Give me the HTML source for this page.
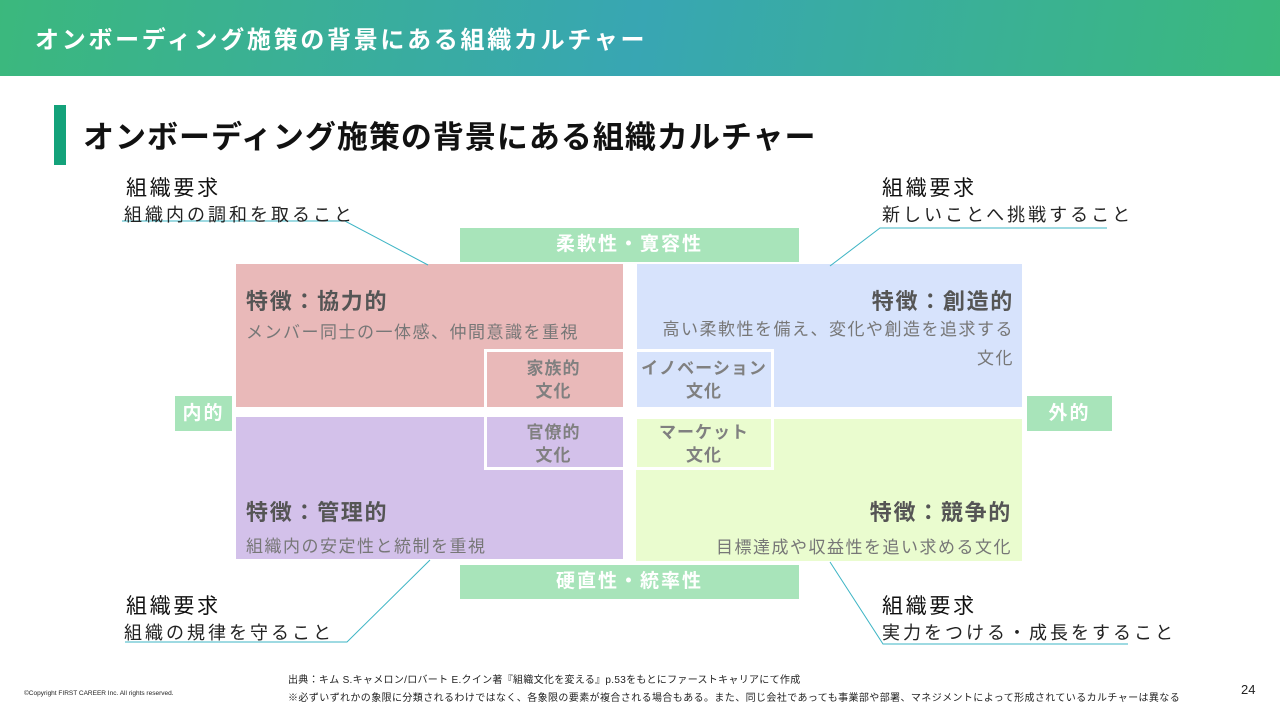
<!DOCTYPE html>
<html><head><meta charset="utf-8"><style>
body{margin:0;width:1280px;height:720px;position:relative;overflow:hidden;background:#fff;font-family:"Liberation Sans","Noto Sans CJK JP",sans-serif;}
.a{position:absolute;white-space:nowrap;}
.hdr{left:0;top:0;width:1280px;height:76px;background:linear-gradient(100deg,#3bb87d 0%,#38a6b3 50%,#3bb97c 100%);}
.q{position:absolute;}
.t{color:#555;font-weight:bold;font-size:22px;letter-spacing:1.7px;}
.s{color:#777;font-size:17px;letter-spacing:1.5px;}
.bar{position:absolute;background:#a8e4ba;color:#fff;font-weight:bold;font-size:19px;text-align:center;letter-spacing:2px;}
.c{position:absolute;color:#808080;font-weight:bold;font-size:17px;text-align:center;line-height:23px;letter-spacing:1px;}
.k{font-size:21px;color:#111;letter-spacing:2.7px;}
.r{font-size:18px;color:#222;letter-spacing:3px;}
</style></head><body>
<div class="a hdr"></div>
<div class="a" style="left:35px;top:20px;color:#fff;font-weight:bold;font-size:24px;letter-spacing:2.7px;">オンボーディング施策の背景にある組織カルチャー</div>
<div class="a" style="left:54px;top:105px;width:12px;height:60px;background:#14a27a"></div>
<div class="a" style="left:83px;top:112px;color:#111;font-weight:bold;font-size:31px;letter-spacing:1px;">オンボーディング施策の背景にある組織カルチャー</div>

<div class="q" style="left:236px;top:264px;width:387px;height:143px;background:#e9b9b9"></div>
<div class="q" style="left:637px;top:264px;width:385px;height:143px;background:#d7e3fc"></div>
<div class="q" style="left:236px;top:417px;width:387px;height:142px;background:#d3c1ea"></div>
<div class="q" style="left:636px;top:419px;width:386px;height:142px;background:#eafccf"></div>
<div class="q" style="left:484px;top:349px;width:284px;height:115px;border:3px solid #fff"></div>
<div class="q" style="left:623px;top:349px;width:14px;height:121px;background:#fff"></div>
<div class="q" style="left:484px;top:407px;width:290px;height:10px;background:#fff"></div>

<div class="a t" style="left:246px;top:284px">特徴：協力的</div>
<div class="a s" style="left:246px;top:318px">メンバー同士の一体感、仲間意識を重視</div>
<div class="a t" style="right:266px;top:284px">特徴：創造的</div>
<div class="a s" style="right:266px;top:315px;text-align:right;line-height:29px">高い柔軟性を備え、変化や創造を追求する<br>文化</div>
<div class="a t" style="left:246px;top:495px">特徴：管理的</div>
<div class="a s" style="left:246px;top:532px">組織内の安定性と統制を重視</div>
<div class="a t" style="right:268px;top:495px">特徴：競争的</div>
<div class="a s" style="right:268px;top:533px">目標達成や収益性を追い求める文化</div>

<div class="c" style="left:487px;top:357px;width:133px">家族的<br>文化</div>
<div class="c" style="left:637px;top:357px;width:134px">イノベーション<br>文化</div>
<div class="c" style="left:487px;top:421px;width:133px">官僚的<br>文化</div>
<div class="c" style="left:637px;top:421px;width:134px">マーケット<br>文化</div>

<div class="bar" style="left:460px;top:228px;width:339px;height:34px;line-height:34px">柔軟性・寛容性</div>
<div class="bar" style="left:460px;top:565px;width:339px;height:34px;line-height:34px">硬直性・統率性</div>
<div class="bar" style="left:175px;top:396px;width:57px;height:35px;line-height:35px">内的</div>
<div class="bar" style="left:1027px;top:396px;width:85px;height:35px;line-height:35px">外的</div>

<svg class="a" style="left:0;top:0" width="1280" height="720">
<g stroke="#3cb4c4" stroke-width="1" fill="none">
<polyline points="122,221 345,221 428,265"/>
<polyline points="1107,228 880,228 830,266"/>
<polyline points="125,642 347,642 430,560"/>
<polyline points="1128,644 883,644 830,562"/>
</g></svg>

<div class="a k" style="left:126px;top:172px">組織要求</div>
<div class="a r" style="left:124px;top:201px">組織内の調和を取ること</div>
<div class="a k" style="left:882px;top:172px">組織要求</div>
<div class="a r" style="left:882px;top:201px">新しいことへ挑戦すること</div>
<div class="a k" style="left:126px;top:590px">組織要求</div>
<div class="a r" style="left:124px;top:619px">組織の規律を守ること</div>
<div class="a k" style="left:882px;top:590px">組織要求</div>
<div class="a r" style="left:882px;top:619px">実力をつける・成長をすること</div>

<div class="a" style="left:288px;top:671px;font-size:10px;color:#222;letter-spacing:0.3px">出典：キム S.キャメロン/ロバート E.クイン著『組織文化を変える』p.53をもとにファーストキャリアにて作成</div>
<div class="a" style="left:288px;top:689px;font-size:10px;color:#222;letter-spacing:0.4px">※必ずいずれかの象限に分類されるわけではなく、各象限の要素が複合される場合もある。また、同じ会社であっても事業部や部署、マネジメントによって形成されているカルチャーは異なる</div>
<div class="a" style="left:24px;top:690px;font-size:6.5px;color:#222">©Copyright FIRST CAREER Inc. All rights reserved.</div>
<div class="a" style="left:1241px;top:682px;font-size:13px;color:#222">24</div>
</body></html>
